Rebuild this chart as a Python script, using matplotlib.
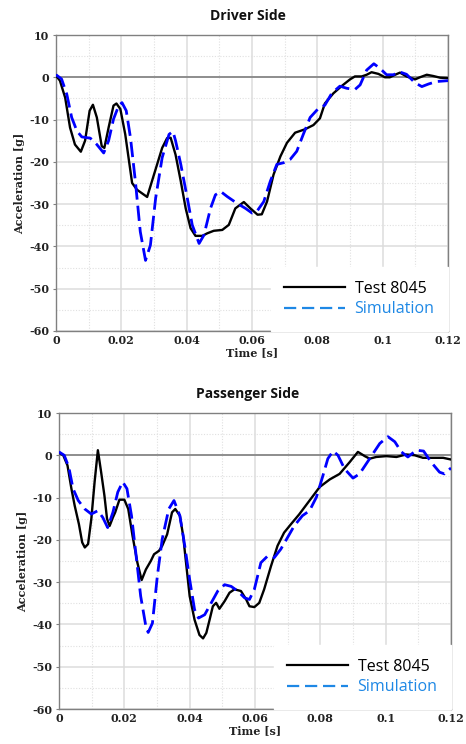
import matplotlib
matplotlib.use("Agg")
import matplotlib.pyplot as plt
from matplotlib.ticker import MultipleLocator, FixedLocator, FixedFormatter
from matplotlib.lines import Line2D

plt.rcParams['axes.unicode_minus'] = False

# ---------------- data ----------------
drv_test_t = [0, 0.0012, 0.0028, 0.0043, 0.0058, 0.0076, 0.0089, 0.0103, 0.0113, 0.0125, 0.014, 0.0148,
              0.0161, 0.0176, 0.0185, 0.0197, 0.0212, 0.0233, 0.0248, 0.0279, 0.030, 0.0325, 0.034, 0.0351,
              0.0366, 0.0382, 0.0397, 0.0412, 0.0427, 0.0448, 0.0463, 0.0483, 0.0509, 0.0529, 0.0549,
              0.0575, 0.0595, 0.0617, 0.063, 0.0646, 0.0666, 0.0687, 0.0707, 0.0732, 0.0762, 0.0788,
              0.0808, 0.0823, 0.0849, 0.0874, 0.09, 0.0915, 0.0936, 0.0951, 0.0966, 0.0987, 0.1007,
              0.1022, 0.1038, 0.1053, 0.1073, 0.1099, 0.1114, 0.1135, 0.1155, 0.1176, 0.12]
drv_test_g = [0.4, -0.8, -4.8, -11.9, -15.9, -17.6, -15.0, -7.9, -6.5, -9.5, -16.3, -16.7,
              -11.9, -6.7, -6.2, -7.5, -13.5, -25.0, -26.6, -28.3, -23.0, -16.7, -14.4, -14.3,
              -18.3, -24.6, -31.0, -35.7, -37.5, -37.5, -36.9, -36.3, -36.1, -34.9, -31.0,
              -29.5, -31.0, -32.5, -32.4, -29.4, -23.0, -18.7, -15.5, -13.1, -12.3, -11.3,
              -9.7, -6.2, -3.8, -2.1, -0.5, 0.2, 0.2, 0.6, 1.2, 0.8, 0.0,
              0.0, 0.6, 1.1, 0.2, -0.5, 0.0, 0.6, 0.3, -0.1, -0.2]

drv_sim_t = [0, 0.0017, 0.0033, 0.0048, 0.0064, 0.0079, 0.0105, 0.0125, 0.0146, 0.0161, 0.0176, 0.0192,
             0.0202, 0.0215, 0.0228, 0.0243, 0.0258, 0.0274, 0.0289, 0.0305, 0.0325, 0.0346, 0.0358,
             0.0366, 0.0382, 0.0402, 0.0417, 0.0438, 0.0453, 0.0473, 0.0488, 0.0504, 0.0524, 0.0554,
             0.058, 0.06, 0.0615, 0.0636, 0.0656, 0.0676, 0.0697, 0.0717, 0.0737, 0.0757, 0.0778,
             0.0803, 0.0823, 0.0844, 0.0869, 0.089, 0.0915, 0.0931, 0.0951, 0.0973, 0.0992, 0.1012,
             0.1033, 0.1051, 0.1073, 0.1099, 0.112, 0.114, 0.1165, 0.12]
drv_sim_g = [0.6, -0.4, -4.0, -9.5, -12.7, -14.1, -14.4, -15.9, -17.9, -15.0, -9.9, -6.7,
             -6.0, -7.9, -14.3, -24.6, -36.5, -43.3, -39.7, -28.6, -19.0, -13.5, -12.8,
             -15.0, -20.6, -28.6, -34.9, -39.3, -37.3, -31.0, -27.8, -27.0, -28.2, -29.8,
             -31.0, -32.1, -31.7, -29.4, -24.6, -20.6, -20.2, -19.4, -17.5, -13.5, -9.5,
             -7.4, -6.6, -3.8, -2.1, -2.6, -2.9, -1.8, 1.7, 3.2, 2.1, 0.6,
             0.6, 1.3, 0.7, -1.3, -2.2, -1.6, -1.0, -0.8]

pas_test_t = [0, 0.0013, 0.0026, 0.0038, 0.0048, 0.0061, 0.0071, 0.0079, 0.0089, 0.0099, 0.0109, 0.0119,
              0.0129, 0.0139, 0.0147, 0.0155, 0.0165, 0.0172, 0.0185, 0.020, 0.0212, 0.0225, 0.024,
              0.0253, 0.0266, 0.0281, 0.0291, 0.0306, 0.0316, 0.0331, 0.0346, 0.0356, 0.037, 0.038,
              0.039, 0.040, 0.0415, 0.043, 0.0441, 0.0451, 0.0461, 0.0471, 0.0481, 0.0491, 0.0507,
              0.0522, 0.0537, 0.0557, 0.0573, 0.0583, 0.0598, 0.0613, 0.0628, 0.0649, 0.0669, 0.0689,
              0.071, 0.0735, 0.0767, 0.0798, 0.0829, 0.0859, 0.089, 0.0915, 0.0936, 0.0951, 0.0971,
              0.1002, 0.1033, 0.1063, 0.1089, 0.1114, 0.1145, 0.1176, 0.12]
pas_test_g = [0.6, 0.0, -2.4, -7.9, -11.9, -16.3, -20.6, -21.8, -21.0, -15.0, -6.3, 1.2,
              -4.0, -9.5, -15.0, -16.7, -14.7, -13.5, -10.5, -10.5, -12.7, -19.0, -25.4,
              -29.5, -27.0, -25.0, -23.4, -22.6, -21.4, -18.7, -13.5, -12.7, -14.3, -19.0,
              -26.2, -33.3, -38.9, -42.5, -43.3, -42.0, -38.9, -35.7, -34.9, -36.3, -34.5,
              -32.5, -31.7, -32.1, -34.1, -35.7, -35.9, -34.9, -31.7, -26.2, -21.4, -18.3,
              -16.3, -14.0, -10.7, -7.5, -5.7, -4.4, -1.6, 0.8, -0.2, -0.8, -0.4,
              -0.2, -0.4, 0.2, 0.0, -0.6, -0.6, -0.6, -1.0]

pas_sim_t = [0, 0.0016, 0.003, 0.0043, 0.0059, 0.0079, 0.0099, 0.0119, 0.0134, 0.0149, 0.0165, 0.018,
             0.0195, 0.0208, 0.0222, 0.0235, 0.025, 0.0266, 0.0273, 0.0286, 0.0301, 0.0316, 0.0336,
             0.0352, 0.037, 0.0385, 0.040, 0.0415, 0.0427, 0.0446, 0.0466, 0.0486, 0.0507, 0.0527,
             0.0547, 0.0568, 0.0583, 0.0598, 0.0618, 0.0639, 0.0659, 0.0679, 0.070, 0.072, 0.0745,
             0.0767, 0.0788, 0.0808, 0.0823, 0.0839, 0.0854, 0.0874, 0.090, 0.092, 0.0951, 0.0982,
             0.1007, 0.1028, 0.1048, 0.1068, 0.1094, 0.1116, 0.1139, 0.1165, 0.118, 0.12]
pas_sim_g = [0.8, 0.0, -2.8, -7.9, -10.7, -12.7, -13.9, -13.1, -14.7, -17.1, -13.5, -8.7,
             -6.3, -7.9, -14.3, -23.0, -33.3, -40.5, -41.9, -39.7, -28.6, -19.8, -12.7,
             -10.7, -14.3, -21.4, -29.4, -36.5, -38.5, -37.7, -34.9, -32.1, -30.6, -31.0,
             -32.1, -33.7, -34.1, -31.7, -25.4, -23.8, -24.2, -22.2, -19.4, -16.7, -14.3,
             -13.1, -9.9, -4.8, -0.8, 1.0, 0.0, -3.2, -5.4, -4.4, -0.8, 2.8,
             4.4, 3.2, 0.8, -0.4, 1.2, 1.0, -1.6, -4.0, -4.4, -3.0]

x_ticks = [0, 0.02, 0.04, 0.06, 0.08, 0.1, 0.12]
x_tick_labels = ["0", "0.02", "0.04", "0.06", "0.08", "0.1", "0.12"]
y_ticks = [10, 0, -10, -20, -30, -40, -50, -60]
y_tick_labels = ["10", "0", "-10", "-20", "-30", "-40", "-50", "-60"]
titles = ["Driver Side", "Passenger Side"]
legend_labels = ["Test 8045", "Simulation"]

# ---------------- figure ----------------
W, H = 466, 744
fig = plt.figure(figsize=(W / 100, H / 100), dpi=100)

serif = dict(family="DejaVu Serif", weight="bold", size=8)
blue = "#0000ff"
leg_blue = "#1e88e5"


def make_axes(rect, tt, tg, st, sg, title, title_y):
    ax = fig.add_axes(rect)
    ax.set_xlim(0, 0.12)
    ax.set_ylim(-60, 10)
    ax.xaxis.set_major_locator(FixedLocator(x_ticks))
    ax.xaxis.set_major_formatter(FixedFormatter(x_tick_labels))
    ax.yaxis.set_major_locator(FixedLocator(y_ticks))
    ax.yaxis.set_major_formatter(FixedFormatter(y_tick_labels))
    ax.xaxis.set_minor_locator(MultipleLocator(0.01))
    ax.yaxis.set_minor_locator(MultipleLocator(5))
    ax.grid(which="major", color="#dcdcdc", lw=1.1, ls="-", zorder=0)
    ax.grid(which="minor", color="#e0e0e0", lw=0.8, ls=(0, (1, 1.5)), zorder=0)
    ax.set_axisbelow(True)
    ax.axhline(0, color="#808080", lw=1.2, zorder=1)
    for s in ax.spines.values():
        s.set_color("#808080")
        s.set_linewidth(1.0)
    ax.tick_params(which="both", length=0, pad=3)
    ax.tick_params(which="major", axis="y", length=2, color="#808080")
    for lab in ax.get_xticklabels() + ax.get_yticklabels():
        lab.set_fontfamily("DejaVu Serif")
        lab.set_fontweight("bold")
        lab.set_fontsize(8)
        lab.set_color("#222222")
    ax.set_xlabel("Time [s]", fontdict=serif, labelpad=1, color="#222222")
    ax.set_ylabel("Acceleration [g]", fontdict=serif, labelpad=3, color="#222222")

    ax.plot(tt, tg, color="black", lw=1.7, zorder=3, solid_joinstyle="round")
    ax.plot(st, sg, color=blue, lw=2.0, zorder=4, dashes=(5.5, 2.2))

    h1 = Line2D([], [], color="black", lw=1.6)
    h2 = Line2D([], [], color=leg_blue, lw=1.6, dashes=(5.5, 2.6))
    leg = ax.legend([h1, h2], legend_labels, loc="lower right", bbox_to_anchor=(1.0, 0.0),
                    borderaxespad=0.0, frameon=True, fancybox=False, handlelength=3.8,
                    handletextpad=0.6, borderpad=0.85, labelspacing=0.3,
                    prop=dict(family="Open Sans", size=11.5))
    leg.get_frame().set_facecolor("white")
    leg.get_frame().set_edgecolor("white")
    leg.get_frame().set_alpha(1.0)
    leg.set_zorder(5)
    texts = leg.get_texts()
    texts[0].set_color("black")
    texts[1].set_color(leg_blue)

    fig.text(0.532, title_y, title, ha="center", va="center",
             family="Open Sans", weight="bold", size=10, color="#111111")
    return ax


ax1 = make_axes([56 / W, 1 - 331 / H, 392 / W, 296 / H],
                drv_test_t, drv_test_g, drv_sim_t, drv_sim_g, titles[0], 1 - 16 / H)
ax2 = make_axes([59 / W, 1 - 709 / H, 392 / W, 296 / H],
                pas_test_t, pas_test_g, pas_sim_t, pas_sim_g, titles[1], 1 - 394 / H)

fig.savefig("out.png", dpi=100, facecolor="white")
